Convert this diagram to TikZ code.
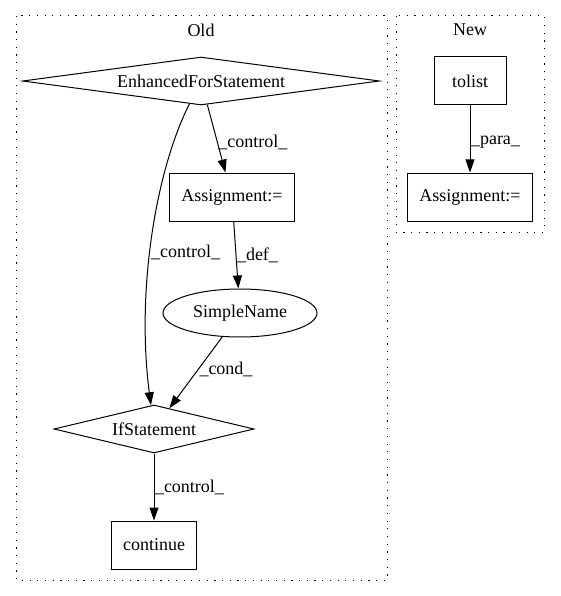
\documentclass[tikz,border=0pt]{standalone}
\usepackage{fontspec}
\setmainfont{Liberation Serif}
\usetikzlibrary{arrows.meta, positioning, shapes.geometric}

\begin{document}
\begin{tikzpicture}[x=1pt, y=1pt, line width=1pt,
	every node/.style={font=\fontsize{18}{22}\selectfont},
	>={Triangle[length=13pt,width=9pt]},
	box/.style={draw, rectangle, minimum width=72, minimum height=48, inner xsep=12},
	cond/.style={draw, diamond, inner sep=0pt, minimum height=48},
	oval/.style={draw, ellipse, inner sep=0pt, minimum width=154, minimum height=48},
	lbl/.style={anchor=west, inner sep=0.5pt},
	cluster/.style={dash pattern=on 1.2pt off 6.5pt}]
	\useasboundingbox (0,0) rectangle (560,-596);

	% Clusters
	\draw[cluster] (16,-16) rectangle (387,-580);
	\draw[cluster] (396,-16) rectangle (544,-232);
	\node (oldLabel) at (201,-30) {Old};
	\node (newLabel) at (470,-30) {New};

	% Old
	\node (efs) at (201,-81) [cond, aspect=7, minimum width=357] {EnhancedForStatement};
	\node (assignOld) at (232,-197) [box] {Assignment:=};
	\node (simpleName) at (240,-313) [oval] {SimpleName};
	\node (ifStmt) at (154,-429) [cond, aspect=4, minimum width=200] {IfStatement};
	\node (cont) at (154,-545) [box] {continue};

	% New
	\node (tolist) at (470,-81) [box] {tolist};
	\node (assignNew) at (470,-197) [box] {Assignment:=};

	% Edges
	\draw[->] (efs) -- (assignOld) node[pos=0.55,lbl] {\_control\_};
	\draw[->] (assignOld) -- (simpleName) node[pos=0.5,lbl] {\_def\_};
	\draw[->] (simpleName) -- (ifStmt) node[pos=0.45,lbl] {\_cond\_};
	\draw[->] (efs) .. controls (156,-170) and (136,-290) .. (ifStmt) node[pos=0.55,lbl] {\_control\_};
	\draw[->] (ifStmt) -- (cont) node[pos=0.5,lbl] {\_control\_};
	\draw[->] (tolist) -- (assignNew) node[pos=0.55,lbl] {\_para\_};
\end{tikzpicture}
\end{document}
